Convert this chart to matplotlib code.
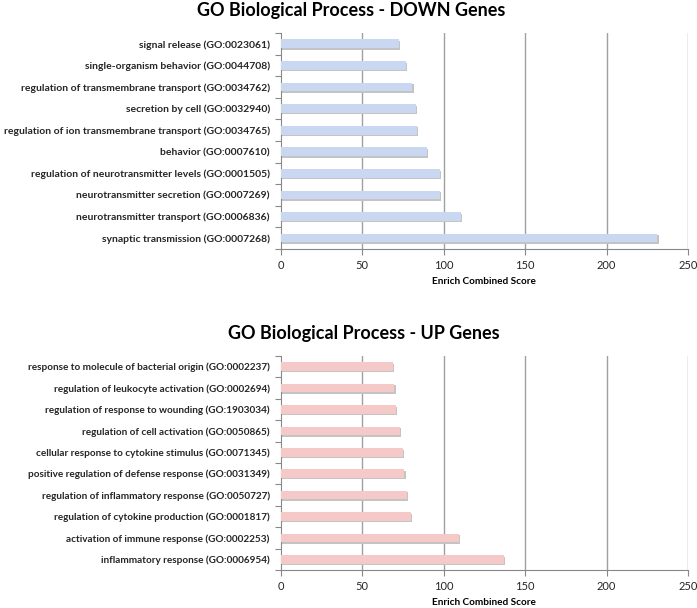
# GO enrichment bar charts for DOWN and UP gene sets
import numpy as np
import matplotlib.pyplot as plt
from matplotlib.ticker import FixedLocator

plt.rcParams['font.family'] = ['Lato', 'DejaVu Sans']

down_terms = ['signal release (GO:0023061)',
              'single-organism behavior (GO:0044708)',
              'regulation of transmembrane transport (GO:0034762)',
              'secretion by cell (GO:0032940)',
              'regulation of ion transmembrane transport (GO:0034765)',
              'behavior (GO:0007610)',
              'regulation of neurotransmitter levels (GO:0001505)',
              'neurotransmitter secretion (GO:0007269)',
              'neurotransmitter transport (GO:0006836)',
              'synaptic transmission (GO:0007268)']
down_scores = [72.5, 76.6, 80.7, 82.7, 83.3, 89.5, 97.5, 97.7, 110.4, 231.2]

up_terms = ['response to molecule of bacterial origin (GO:0002237)',
            'regulation of leukocyte activation (GO:0002694)',
            'regulation of response to wounding (GO:1903034)',
            'regulation of cell activation (GO:0050865)',
            'cellular response to cytokine stimulus (GO:0071345)',
            'positive regulation of defense response (GO:0031349)',
            'regulation of inflammatory response (GO:0050727)',
            'regulation of cytokine production (GO:0001817)',
            'activation of immune response (GO:0002253)',
            'inflammatory response (GO:0006954)']
up_scores = [68.7, 69.6, 70.6, 73.2, 75.1, 75.9, 77.4, 79.8, 109.5, 137.1]

x_ticks = [0, 50, 100, 150, 200, 250]


def draw_panel(ax, terms, scores, color, title, label_size, title_x):
    y = np.arange(len(terms))
    # soft shadow under each bar, like the spreadsheet style
    ax.barh(y + 0.07, scores, height=0.4, left=0.8, color='#c4c4c4', zorder=2)
    ax.barh(y, scores, height=0.4, color=color, zorder=3)
    ax.set_ylim(len(terms) - 0.5, -0.5)
    ax.set_xlim(0, 250)
    ax.set_yticks(y)
    ax.set_yticklabels(terms, fontsize=label_size, fontweight='bold', color='#262626')
    ax.yaxis.set_minor_locator(FixedLocator(np.arange(-0.5, len(terms), 1)))
    ax.tick_params(axis='y', which='major', length=0, pad=8)
    ax.tick_params(axis='y', which='minor', length=4, color='#888888', width=0.8)
    ax.set_xticks(x_ticks)
    ax.tick_params(axis='x', length=4, color='#888888', labelsize=8,
                   labelcolor='#262626', pad=4)
    ax.grid(axis='x', color='#a0a0a0', linewidth=1.0, zorder=0)
    ax.xaxis.get_gridlines()[0].set_visible(False)
    for side in ['top', 'right']:
        ax.spines[side].set_visible(False)
    for side in ['left', 'bottom']:
        ax.spines[side].set_color('#888888')
        ax.spines[side].set_linewidth(0.8)
    ax.set_xlabel('Enrich Combined Score', fontsize=7.2, fontweight='bold',
                  labelpad=4)
    ax.set_title(title, fontsize=13, fontweight='bold', pad=12, x=title_x)


fig = plt.figure(figsize=(6.97, 6.08), dpi=100)
ax1 = fig.add_axes([0.403, 0.5905, 0.584, 0.3552])
ax2 = fig.add_axes([0.403, 0.0625, 0.584, 0.352])

draw_panel(ax1, down_terms, down_scores, '#c9d7f0',
           'GO Biological Process - DOWN Genes', 7.45, 0.172)
draw_panel(ax2, up_terms, up_scores, '#f6c9c9',
           'GO Biological Process - UP Genes', 7.2, 0.204)

fig.savefig('out.png', dpi=100)
